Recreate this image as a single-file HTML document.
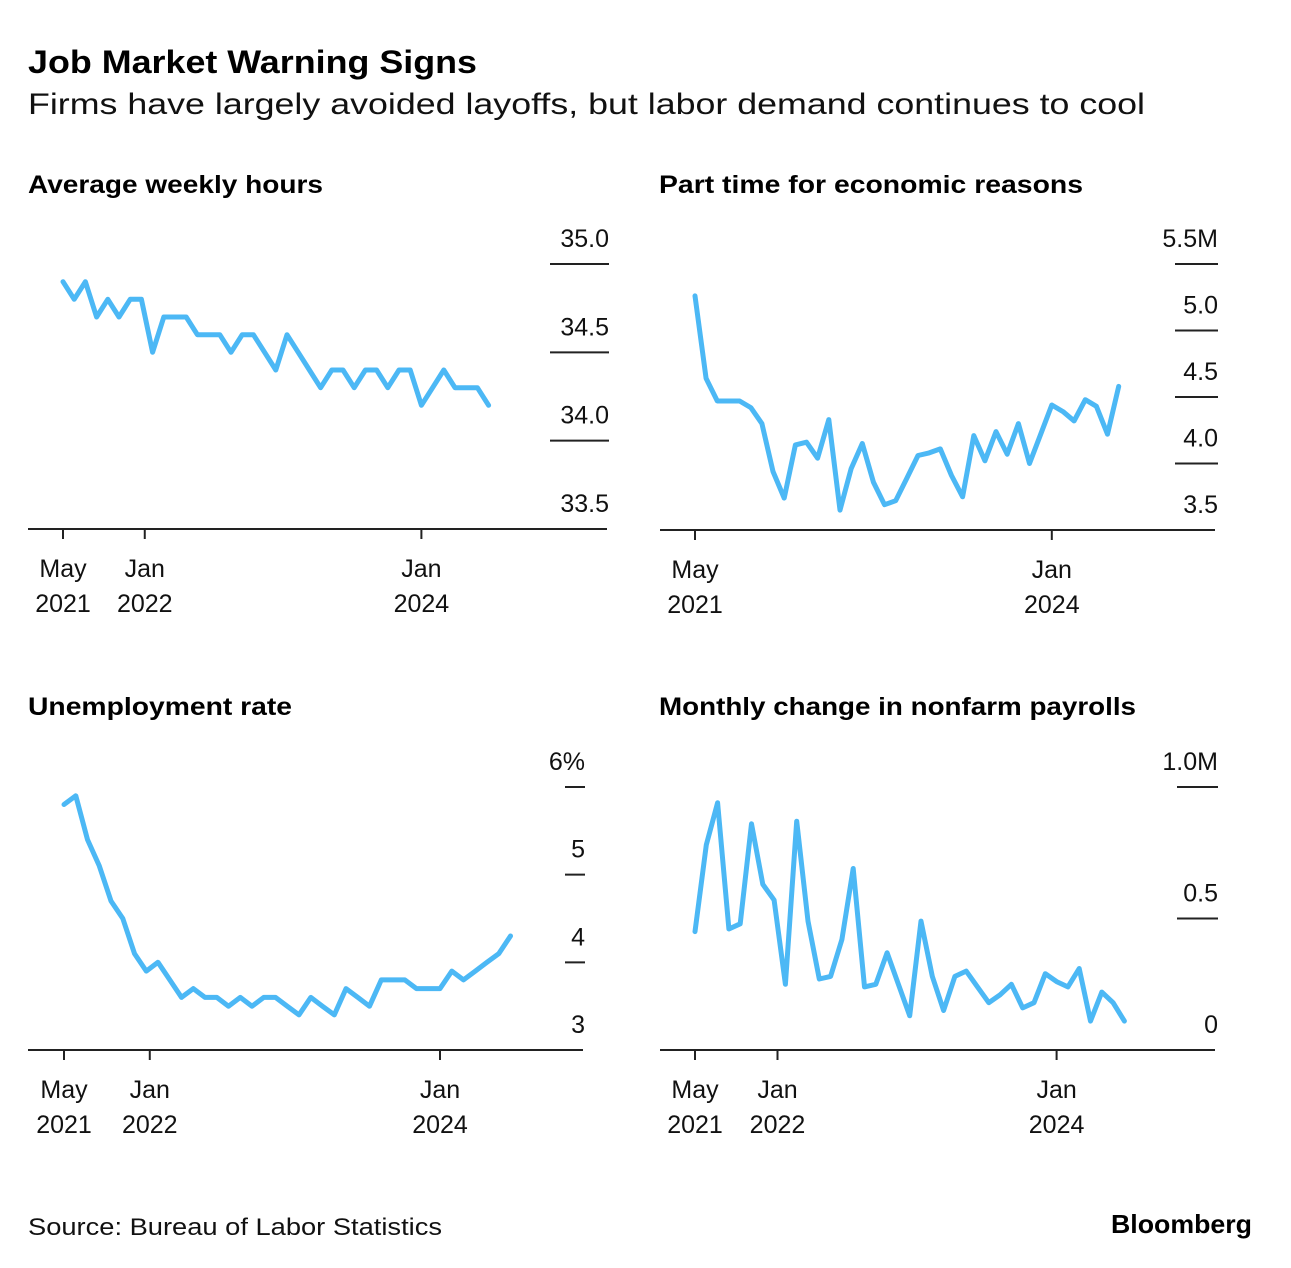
<!DOCTYPE html>
<html><head><meta charset="utf-8"><style>
html,body{margin:0;padding:0;background:#fff;}
svg{display:block;font-family:"Liberation Sans",sans-serif;}
</style></head><body>
<svg id="root" width="1291" height="1268" viewBox="0 0 1291 1268">
<text x="28" y="73" font-size="32" font-weight="bold" textLength="449" lengthAdjust="spacingAndGlyphs">Job Market Warning Signs</text>
<text x="28" y="114" font-size="30" fill="#111" textLength="1117" lengthAdjust="spacingAndGlyphs">Firms have largely avoided layoffs, but labor demand continues to cool</text>
<text x="28" y="193" font-size="25" font-weight="bold" textLength="295" lengthAdjust="spacingAndGlyphs">Average weekly hours</text>
<text x="659" y="193" font-size="25" font-weight="bold" textLength="424" lengthAdjust="spacingAndGlyphs">Part time for economic reasons</text>
<text x="28" y="715" font-size="25" font-weight="bold" textLength="264" lengthAdjust="spacingAndGlyphs">Unemployment rate</text>
<text x="659" y="715" font-size="25" font-weight="bold" textLength="477" lengthAdjust="spacingAndGlyphs">Monthly change in nonfarm payrolls</text>
<text x="28" y="1235" font-size="24" fill="#111" textLength="414" lengthAdjust="spacingAndGlyphs">Source: Bureau of Labor Statistics</text>
<text x="1252" y="1233" font-size="26" font-weight="bold" text-anchor="end" textLength="141" lengthAdjust="spacingAndGlyphs">Bloomberg</text>
<g id="panels"></g>
</svg>
<script>
// Monthly data May 2021 - Jul 2024 (39 points)
const hoursValues = [34.9,34.8,34.9,34.7,34.8,34.7,34.8,34.8,34.5,34.7,34.7,34.7,34.6,34.6,34.6,34.5,34.6,34.6,34.5,34.4,34.6,34.5,34.4,34.3,34.4,34.4,34.3,34.4,34.4,34.3,34.4,34.4,34.2,34.3,34.4,34.3,34.3,34.3,34.2];
const partTimeValues = [5.26,4.64,4.47,4.47,4.47,4.42,4.30,3.94,3.74,4.14,4.16,4.04,4.33,3.65,3.96,4.15,3.86,3.69,3.72,3.89,4.06,4.08,4.11,3.91,3.75,4.21,4.02,4.24,4.07,4.30,4.00,4.22,4.44,4.39,4.32,4.48,4.43,4.22,4.58];
const unempValues = [5.8,5.9,5.4,5.1,4.7,4.5,4.1,3.9,4.0,3.8,3.6,3.7,3.6,3.6,3.5,3.6,3.5,3.6,3.6,3.5,3.4,3.6,3.5,3.4,3.7,3.6,3.5,3.8,3.8,3.8,3.7,3.7,3.7,3.9,3.8,3.9,4.0,4.1,4.3];
const payrollValues = [0.45,0.78,0.94,0.46,0.48,0.86,0.63,0.57,0.25,0.87,0.49,0.27,0.28,0.42,0.69,0.24,0.25,0.37,0.25,0.13,0.49,0.28,0.15,0.28,0.30,0.24,0.18,0.21,0.25,0.16,0.18,0.29,0.26,0.24,0.31,0.11,0.22,0.18,0.11];
const xTickIndex = [0, 7.3, 32];
const xTickLine1 = ["May","Jan","Jan"];
const xTickLine2 = ["2021","2022","2024"];
const hoursTicks = [35.0,34.5,34.0,33.5];
const hoursTickLabels = ["35.0","34.5","34.0","33.5"];
const partTimeTicks = [5.5,5.0,4.5,4.0,3.5];
const partTimeTickLabels = ["5.5M","5.0","4.5","4.0","3.5"];
const unempTicks = [6,5,4,3];
const unempTickLabels = ["6%","5","4","3"];
const payrollTicks = [1.0,0.5,0];
const payrollTickLabels = ["1.0M","0.5","0"];

const NS="http://www.w3.org/2000/svg";
const root=document.getElementById('panels');
function mk(tag,attrs,parent){const e=document.createElementNS(NS,tag);for(const k in attrs)e.setAttribute(k,attrs[k]);(parent||root).appendChild(e);return e;}

function panel(cfg){
  const g=mk('g',{});
  
  
  const xs=i=>cfg.x0+i*cfg.dx;
  const ys=v=>cfg.yTop+(cfg.vTop-v)*(cfg.yBot-cfg.yTop)/(cfg.vTop-cfg.vBot);
  const ax=mk('line',{x1:cfg.axL,x2:cfg.axR,y1:cfg.yBot,y2:cfg.yBot,stroke:'#222','stroke-width':2},g);
  
  
  cfg.ticks.forEach((v,k)=>{
    const y=ys(v);
    if(Math.abs(y-cfg.yBot)>3){
      const gl=mk('line',{x1:cfg.gL,x2:cfg.gR,y1:y,y2:y,stroke:'#222','stroke-width':2},g);
      
      
    }
    const t=mk('text',{x:cfg.labX,y:y-17,'font-size':25,'text-anchor':cfg.anchor,fill:'#111'},g);
    t.textContent=cfg.labels[k];
    
    
  });
  xTickIndex.forEach((idx,k)=>{
    if(cfg.skip && cfg.skip.includes(k)) return;
    const x=xs(idx);
    const tk=mk('line',{x1:x,x2:x,y1:cfg.yBot,y2:cfg.yBot+10,stroke:'#222','stroke-width':2},g);
    
    
    const t1=mk('text',{x:x,y:cfg.yBot+48,'font-size':25,'text-anchor':'middle',fill:'#111'},g);
    t1.textContent=xTickLine1[k];
    
    
    const t2=mk('text',{x:x,y:cfg.yBot+83,'font-size':25,'text-anchor':'middle',fill:'#111'},g);
    t2.textContent=xTickLine2[k];
    
    
  });
  const pts=cfg.values.map((v,i)=>xs(i).toFixed(1)+','+ys(v).toFixed(1)).join(' ');
  const pl=mk('polyline',{points:pts,fill:'none',stroke:'#4cb8f5','stroke-width':5,'stroke-linejoin':'round','stroke-linecap':'round'},g);
  
  
}

panel({name:'weekly-hours-chart',values:hoursValues,ticks:hoursTicks,labels:hoursTickLabels,
  x0:63,dx:11.2,yTop:264,yBot:529,vTop:35.0,vBot:33.5,axL:28,axR:607,gL:550,gR:609,labX:609,anchor:'end'});
panel({name:'part-time-chart',values:partTimeValues,ticks:partTimeTicks,labels:partTimeTickLabels,
  x0:695,dx:11.15,yTop:264,yBot:530,vTop:5.5,vBot:3.5,axL:660,axR:1215,gL:1175,gR:1218,labX:1218,anchor:'end',skip:[1]});
panel({name:'unemployment-chart',values:unempValues,ticks:unempTicks,labels:unempTickLabels,
  x0:64,dx:11.75,yTop:787,yBot:1050,vTop:6,vBot:3,axL:28,axR:583,gL:565,gR:585,labX:585,anchor:'end'});
panel({name:'payrolls-chart',values:payrollValues,ticks:payrollTicks,labels:payrollTickLabels,
  x0:695,dx:11.3,yTop:787,yBot:1050,vTop:1.0,vBot:0,axL:660,axR:1215,gL:1177,gR:1218,labX:1218,anchor:'end'});
</script>
</body></html>
